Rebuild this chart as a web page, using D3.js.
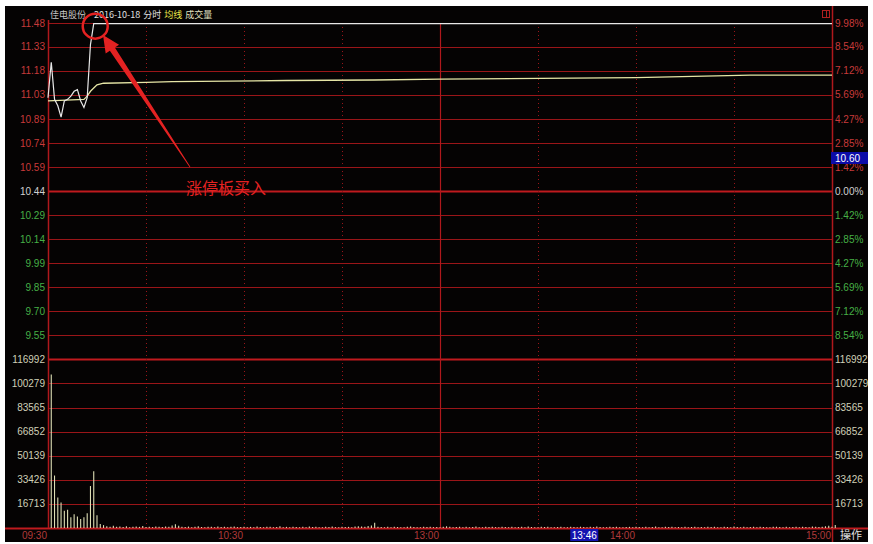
<!DOCTYPE html>
<html><head><meta charset="utf-8">
<script src="https://cdn.jsdelivr.net/npm/d3@7"></script>
<style>body{margin:0;background:#fff}svg{display:block}</style>
</head><body><div id="c"></div>
<script>
// ---------- data ----------
const stockName = "佳电股份";
const dateLabel = "2016-10-18";
const preClose = 10.44;
const lastPrice = "10.60";
const cursorTime = "13:46";
const cursorMinute = 166;
const annotation = "涨停板买入";

const priceTickValues = [11.484, 11.335, 11.186, 11.037, 10.887, 10.738, 10.589, 10.44, 10.291, 10.142, 9.993, 9.843, 9.694, 9.545];
const priceTickLabels = ["11.48","11.33","11.18","11.03","10.89","10.74","10.59","10.44","10.29","10.14","9.99","9.85","9.70","9.55"];
const pctTickLabels = ["9.98%","8.54%","7.12%","5.69%","4.27%","2.85%","1.42%","0.00%","1.42%","2.85%","4.27%","5.69%","7.12%","8.54%"];
const volTickValues = [116992, 100279, 83565, 66852, 50139, 33426, 16713];
const volTickLabels = ["116992","100279","83565","66852","50139","33426","16713"];
const timeTickMinutes = [0, 60, 120, 180, 240];
const timeTickLabels = ["09:30","10:30","13:00","14:00","15:00"];
const dottedGridMinutes = [30, 60, 90, 150, 180, 210];
const solidGridMinutes = [120];

// price line (minute index, price)
const priceMinutes = [0,1,2,3,4,5,6,7,8,9,10,11,12,13,14,240];
const priceValues = [11.02,11.24,11.01,10.97,10.90,11.00,11.01,11.03,11.06,11.07,11.00,10.96,11.02,11.35,11.48,11.48];
// average price line
const avgMinutes = [0,11,12,13,14,15,17,30,38,73,100,120,180,215,240];
const avgValues = [11.00,11.01,11.03,11.06,11.08,11.10,11.11,11.115,11.12,11.127,11.13,11.135,11.145,11.16,11.16];
// volume per minute, starting at minute 1
const volStart = 1;
const volumes = [106400,36400,21100,17700,11900,12600,7400,9600,8000,6200,7400,10300,29100,39400,8900,2800,2000,
1200,900,1500,800,1100,700,1300,600,900,1000,800,1400,700,900,600,1100,800,700,1000,900,
1800,2600,1500,900,700,1000,600,800,1200,700,500,900,800,600,1000,700,900,500,800,1100,
600,700,900,500,800,600,1000,700,500,800,900,600,700,1200,500,800,600,900,700,500,
800,600,1000,700,900,500,600,800,700,1100,600,500,900,700,800,600,1000,1300,1100,900,
1400,1800,3600,900,700,500,800,600,900,700,500,600,800,1000,700,600,500,900,700,800,
600,700,500,900,1200,800,600,700,900,500,800,600,700,1000,600,500,800,700,900,600,
500,800,700,600,900,500,700,800,600,1000,700,500,600,900,700,800,500,600,700,900,
600,500,800,700,600,900,700,500,800,600,1100,700,500,600,800,700,900,600,500,700,
800,600,900,700,500,800,600,700,1000,600,500,800,700,900,600,700,500,800,600,700,
900,500,700,600,800,700,900,600,500,800,700,600,1000,700,500,800,600,700,900,600,
800,700,500,600,800,900,700,600,800,500,700,900,600,800,700,600,1000,800,700,900,
1200,1500,900,2100];

// ---------- layout ----------
const W = 873, H = 544;
const L = 48, R = 832, T = 23, priceBottom = 359.3, volBottom = 528;
const GRID = "#9a1518";
const svg = d3.select("#c").append("svg").attr("width", W).attr("height", H)
  .style("font-family", "'Liberation Sans', Arial, sans-serif");

svg.append("rect").attr("x", 0).attr("y", 0).attr("width", W).attr("height", H).attr("fill", "#fff");
svg.append("rect").attr("x", 5).attr("y", 6).attr("width", 863).attr("height", 536).attr("fill", "#050303");

const x = d3.scaleLinear().domain([0, 240]).range([L, R]);
const y = d3.scaleLinear().domain([preClose * 0.9, preClose * 1.1]).range([priceBottom, T]);
const yv = d3.scaleLinear().domain([0, 116992]).range([volBottom, priceBottom]);

// horizontal grid: price
svg.append("g").selectAll("line").data(priceTickValues).join("line")
  .attr("x1", L).attr("x2", R)
  .attr("y1", d => Math.round(y(d)) + 0.5).attr("y2", d => Math.round(y(d)) + 0.5)
  .attr("stroke", d => d === preClose ? "#c01a1e" : GRID)
  .attr("stroke-width", d => d === preClose ? 2 : 1);
// horizontal grid: volume
svg.append("g").selectAll("line").data(volTickValues).join("line")
  .attr("x1", L).attr("x2", R)
  .attr("y1", d => Math.round(yv(d)) + 0.5).attr("y2", d => Math.round(yv(d)) + 0.5)
  .attr("stroke", (d, i) => i === 0 ? "#c01a1e" : GRID)
  .attr("stroke-width", (d, i) => i === 0 ? 2 : 1);
// bottom axis line
svg.append("line").attr("x1", 5).attr("x2", 868).attr("y1", volBottom + 0.5).attr("y2", volBottom + 0.5)
  .attr("stroke", "#c01a1e").attr("stroke-width", 2);

// vertical grid
svg.append("g").selectAll("line").data(dottedGridMinutes).join("line")
  .attr("x1", d => Math.round(x(d)) + 0.5).attr("x2", d => Math.round(x(d)) + 0.5)
  .attr("y1", T).attr("y2", volBottom)
  .attr("stroke", GRID).attr("stroke-dasharray", "1,3");
svg.append("g").selectAll("line").data(solidGridMinutes).join("line")
  .attr("x1", d => Math.round(x(d)) + 0.5).attr("x2", d => Math.round(x(d)) + 0.5)
  .attr("y1", T).attr("y2", volBottom)
  .attr("stroke", "#b0181c").attr("stroke-width", 1.2);
// frame verticals
svg.append("line").attr("x1", L + 0.5).attr("x2", L + 0.5).attr("y1", 20).attr("y2", volBottom)
  .attr("stroke", "#b0181c").attr("stroke-width", 1.5);
svg.append("line").attr("x1", R + 0.5).attr("x2", R + 0.5).attr("y1", 6).attr("y2", 542)
  .attr("stroke", "#b0181c").attr("stroke-width", 1.5);

// volume bars
svg.append("g").selectAll("line").data(volumes).join("line")
  .attr("x1", (d, i) => x(i + volStart)).attr("x2", (d, i) => x(i + volStart))
  .attr("y1", volBottom).attr("y2", d => yv(d))
  .attr("stroke", "#ddddb4").attr("stroke-width", 1.1);

// average line
const avgPts = avgMinutes.map((m, i) => [m, avgValues[i]]);
svg.append("path").datum(avgPts)
  .attr("d", d3.line().x(d => x(d[0])).y(d => y(d[1])))
  .attr("fill", "none").attr("stroke", "#e6e6a6").attr("stroke-width", 1.3);

// price line
const pricePts = priceMinutes.map((m, i) => [m, priceValues[i]]);
svg.append("path").datum(pricePts)
  .attr("d", d3.line().x(d => x(d[0])).y(d => y(d[1])))
  .attr("fill", "none").attr("stroke", "#e8e8e8").attr("stroke-width", 1.2);

// left axis labels
const lab = svg.append("g").style("font-size", "10px");
lab.selectAll("text.lp").data(priceTickValues).join("text")
  .attr("x", 45).attr("y", d => y(d) + 3.5).attr("text-anchor", "end")
  .attr("fill", d => d > preClose ? "#c83a3a" : d === preClose ? "#d0d0d0" : "#46b046")
  .text((d, i) => priceTickLabels[i]);
lab.selectAll("text.lv").data(volTickValues).join("text")
  .attr("x", 45).attr("y", d => yv(d) + 3.5).attr("text-anchor", "end")
  .attr("fill", "#d0d0b8").text((d, i) => volTickLabels[i]);
// right axis labels
lab.selectAll("text.rp").data(priceTickValues).join("text")
  .attr("x", 835).attr("y", d => y(d) + 3.5)
  .attr("fill", d => d > preClose ? "#c83a3a" : d === preClose ? "#d0d0d0" : "#46b046")
  .text((d, i) => pctTickLabels[i]);
lab.selectAll("text.rv").data(volTickValues).join("text")
  .attr("x", 835).attr("y", d => yv(d) + 3.5)
  .attr("fill", "#d0d0b8").text((d, i) => volTickLabels[i]);
// time labels
lab.selectAll("text.t").data(timeTickMinutes).join("text")
  .attr("x", d => x(d) - 1).attr("y", 538.5).attr("text-anchor", "end")
  .attr("fill", "#b03a3a").text((d, i) => timeTickLabels[i]);

// cursor time box
const cx = x(cursorMinute);
svg.append("rect").attr("x", cx - 20).attr("y", 529).attr("width", 28).attr("height", 12).attr("fill", "#1414b0");
svg.append("text").attr("x", cx - 6).attr("y", 538.5).attr("text-anchor", "middle")
  .attr("fill", "#fff").style("font-size", "10px").text(cursorTime);
svg.append("text").attr("x", 840).attr("y", 539).attr("fill", "#e0e0e0")
  .style("font-size", "11px").style("font-family", "'Noto Sans CJK SC', sans-serif").text("操作");

// last price box on right axis
svg.append("rect").attr("x", 831).attr("y", 152).attr("width", 37).attr("height", 12).attr("fill", "#0c0ca8");
svg.append("text").attr("x", 835).attr("y", 161.5).attr("fill", "#fff").style("font-size", "10px").text(lastPrice);

// header
const hdr = svg.append("text").attr("x", 50).attr("y", 18)
  .style("font-size", "9px").style("font-family", "'Noto Sans CJK SC', sans-serif");
hdr.append("tspan").attr("fill", "#c8c8c8").text(stockName);
hdr.append("tspan").attr("dx", 8).attr("fill", "#e0e0e0").text(dateLabel);
hdr.append("tspan").attr("dx", 3).attr("fill", "#e0e0e0").text("分时");
hdr.append("tspan").attr("dx", 3).attr("fill", "#e8e84a").text("均线");
hdr.append("tspan").attr("dx", 3).attr("fill", "#e0e0c0").text("成交量");

// top-right icon
svg.append("rect").attr("x", 822.5).attr("y", 10.5).attr("width", 7).attr("height", 7)
  .attr("fill", "none").attr("stroke", "#b02020");
svg.append("line").attr("x1", 826.5).attr("x2", 826.5).attr("y1", 11).attr("y2", 17).attr("stroke", "#b02020");

// annotation: circle + arrow + text
const ann = svg.append("g");
ann.append("circle").attr("cx", x(14) + 1.5).attr("cy", y(11.48) + 2.5).attr("r", 12.5)
  .attr("fill", "none").attr("stroke", "#e42222").attr("stroke-width", 2.5);
const tip = [103, 35], tail = [190, 167];
const dx = tail[0] - tip[0], dy = tail[1] - tip[1], len = Math.hypot(dx, dy);
const ux = dx / len, uy = dy / len, px = uy, py = -ux;
const hb = [tip[0] + 17 * ux, tip[1] + 17 * uy];
const pts = [
  tip,
  [hb[0] + 8 * px, hb[1] + 8 * py],
  [hb[0] + 3 * px, hb[1] + 3 * py],
  [tail[0] + 0.4 * px, tail[1] + 0.4 * py],
  [tail[0] - 0.4 * px, tail[1] - 0.4 * py],
  [hb[0] - 3 * px, hb[1] - 3 * py],
  [hb[0] - 8 * px, hb[1] - 8 * py]
];
ann.append("polygon").attr("points", pts.map(p => p.join(",")).join(" ")).attr("fill", "#e42222");
ann.append("text").attr("x", 186).attr("y", 194).attr("fill", "#e42222")
  .style("font-size", "16px").style("font-family", "'Noto Sans CJK SC', sans-serif").text(annotation);
</script></body></html>
